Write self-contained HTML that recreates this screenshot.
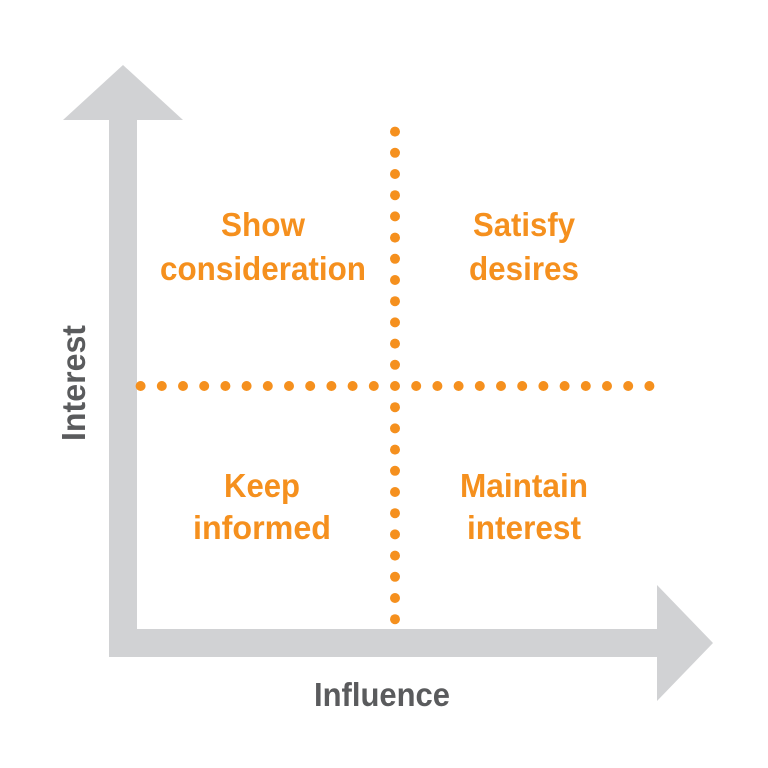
<!DOCTYPE html>
<html><head><meta charset="utf-8"><style>html,body{margin:0;padding:0;background:#fff}svg{display:block}</style></head>
<body>
<svg width="768" height="768" viewBox="0 0 768 768" xmlns="http://www.w3.org/2000/svg">
<rect width="768" height="768" fill="#fff"/>
<g fill="#d1d2d4">
<rect x="109" y="115" width="28" height="542"/>
<polygon points="63,120 183,120 123,65"/>
<rect x="109" y="629" width="552" height="28"/>
<polygon points="657,585 657,701 713,643"/>
</g>
<g fill="#f5901e">
<circle cx="395" cy="386" r="5"/>
<circle cx="395" cy="364.8" r="5"/><circle cx="395" cy="343.6" r="5"/><circle cx="395" cy="322.4" r="5"/><circle cx="395" cy="301.2" r="5"/><circle cx="395" cy="280" r="5"/><circle cx="395" cy="258.8" r="5"/><circle cx="395" cy="237.6" r="5"/><circle cx="395" cy="216.4" r="5"/><circle cx="395" cy="195.2" r="5"/><circle cx="395" cy="174" r="5"/><circle cx="395" cy="152.8" r="5"/><circle cx="395" cy="131.6" r="5"/>
<circle cx="395" cy="407.2" r="5"/><circle cx="395" cy="428.4" r="5"/><circle cx="395" cy="449.6" r="5"/><circle cx="395" cy="470.8" r="5"/><circle cx="395" cy="492" r="5"/><circle cx="395" cy="513.2" r="5"/><circle cx="395" cy="534.4" r="5"/><circle cx="395" cy="555.6" r="5"/><circle cx="395" cy="576.8" r="5"/><circle cx="395" cy="598" r="5"/><circle cx="395" cy="619.2" r="5"/>
<circle cx="373.8" cy="386" r="5"/><circle cx="352.6" cy="386" r="5"/><circle cx="331.4" cy="386" r="5"/><circle cx="310.2" cy="386" r="5"/><circle cx="289" cy="386" r="5"/><circle cx="267.8" cy="386" r="5"/><circle cx="246.6" cy="386" r="5"/><circle cx="225.4" cy="386" r="5"/><circle cx="204.2" cy="386" r="5"/><circle cx="183" cy="386" r="5"/><circle cx="161.8" cy="386" r="5"/><circle cx="140.6" cy="386" r="5"/>
<circle cx="416.2" cy="386" r="5"/><circle cx="437.4" cy="386" r="5"/><circle cx="458.6" cy="386" r="5"/><circle cx="479.8" cy="386" r="5"/><circle cx="501" cy="386" r="5"/><circle cx="522.2" cy="386" r="5"/><circle cx="543.4" cy="386" r="5"/><circle cx="564.6" cy="386" r="5"/><circle cx="585.8" cy="386" r="5"/><circle cx="607" cy="386" r="5"/><circle cx="628.2" cy="386" r="5"/><circle cx="649.4" cy="386" r="5"/>
</g>
<g font-family="Liberation Sans, sans-serif" font-weight="bold" font-size="33" fill="#f5901e" text-anchor="middle">
<text x="263" y="236" textLength="84" lengthAdjust="spacingAndGlyphs">Show</text>
<text x="263" y="280" textLength="206" lengthAdjust="spacingAndGlyphs">consideration</text>
<text x="524" y="236" textLength="102" lengthAdjust="spacingAndGlyphs">Satisfy</text>
<text x="524" y="280" textLength="110" lengthAdjust="spacingAndGlyphs">desires</text>
<text x="262" y="497" textLength="76" lengthAdjust="spacingAndGlyphs">Keep</text>
<text x="262" y="539" textLength="138" lengthAdjust="spacingAndGlyphs">informed</text>
<text x="524" y="497" textLength="128" lengthAdjust="spacingAndGlyphs">Maintain</text>
<text x="524" y="539" textLength="114" lengthAdjust="spacingAndGlyphs">interest</text>
</g>
<g font-family="Liberation Sans, sans-serif" font-weight="bold" font-size="33" fill="#5a5b5d" text-anchor="middle">
<text x="382" y="706" textLength="136" lengthAdjust="spacingAndGlyphs">Influence</text>
<text transform="translate(85,383) rotate(-90)" x="0" y="0" textLength="116" lengthAdjust="spacingAndGlyphs">Interest</text>
</g>
</svg>
</body></html>
